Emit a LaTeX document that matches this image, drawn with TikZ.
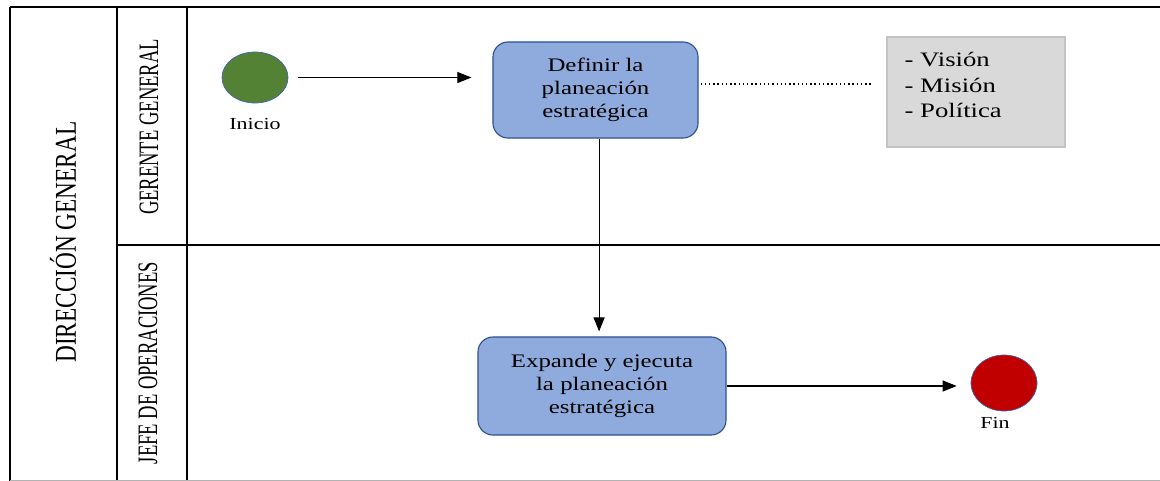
\documentclass[tikz,border=0pt]{standalone}
\usepackage{fontspec}
\setmainfont{Liberation Serif}
\newfontfamily\boxfont[FakeStretch=1.3]{Liberation Serif}
\newfontfamily\lanefont[FakeStretch=0.66]{Liberation Serif}
\newfontfamily\poolfont[FakeStretch=0.77]{Liberation Serif}
\definecolor{bpgreen}{RGB}{84,130,53}
\definecolor{bpred}{RGB}{192,0,0}
\definecolor{bpring}{RGB}{68,100,170}
\definecolor{bpfill}{RGB}{143,170,220}
\definecolor{bpedge}{RGB}{47,82,143}
\definecolor{bpnote}{RGB}{217,217,217}
\definecolor{bpnoteedge}{RGB}{195,195,195}
\usetikzlibrary{arrows.meta,positioning,shapes.geometric,calc}
\newcommand{\pxu}{0.025cm}

\begin{document}
\begin{tikzpicture}[x=\pxu, y=-\pxu,
    lane/.style={line width=2pt},
    poolname/.style={rotate=90, inner sep=0, font=\poolfont\fontsize{21.5}{26}\selectfont},
    lanename/.style={rotate=90, inner sep=0, font=\lanefont\fontsize{20}{24}\selectfont},
    event/.style={ellipse, draw=bpring, line width=0.5pt, minimum width=1.65cm, inner sep=0},
    evlabel/.style={inner sep=0, font=\boxfont\fontsize{12}{14}\selectfont},
    task/.style={draw=bpedge, fill=bpfill, line width=0.8pt, rounded corners=3.75mm, align=center, inner sep=0, font=\boxfont\fontsize{13.6}{16.4}\selectfont},
    note/.style={draw=bpnoteedge, fill=bpnote, line width=0.8pt},
    notetext/.style={align=left, inner sep=0, font=\boxfont\fontsize{14.6}{18}\selectfont},
    flow/.style={-{Triangle[length=3.5mm, width=2.75mm]}, line width=0.8pt}]
  \useasboundingbox (0,0) rectangle (1160,481);

  %% Pool and lanes
  \draw[lane] (10,7) -- (1160,7);
  \draw[lane] (10,7) -- (10,481);
  \draw[lane] (117,7) -- (117,481);
  \draw[lane] (187,7) -- (187,481);
  \draw[lane] (117,245) -- (1160,245);
  \draw[gray!60, line width=0.6pt] (10,480) -- (1160,480);

  \node[poolname] (pool) at (63,242) {DIRECCIÓN GENERAL};
  \node[lanename] (gerente) at (149,127) {GERENTE GENERAL};
  \node[lanename] (jefe) at (148,363) {JEFE DE OPERACIONES};

  %% Lane 1: Gerente general
  \node[event, fill=bpgreen, minimum height=1.275cm] (inicio) at (255,77.5) {};
  \node[evlabel, below=0.36cm of inicio] (inicioLbl) {Inicio};
  \node[task, minimum width=5.125cm, minimum height=2.4cm] (plan) at (595.5,90) {Definir la\\planeación\\estratégica};
  \node[note, minimum width=4.45cm, minimum height=2.75cm] (notas) at (976,92) {};
  \node[notetext, anchor=north west] (notastxt) at ([shift={(18,16)}]notas.north west) {- Visión\\- Misión\\- Política};

  %% Lane 2: Jefe de operaciones
  \node[task, minimum width=6.2cm, minimum height=2.45cm] (ejec) at (602,386) {Expande y ejecuta\\la planeación\\estratégica};
  \node[event, fill=bpred, minimum height=1.4cm] (fin) at (1004,383) {};
  \node[evlabel, below=0.15cm of fin, xshift=-0.225cm] (finLbl) {Fin};

  %% Flows
  \draw[flow, shorten <=0.25cm, shorten >=0.525cm] (inicio) -- (inicio -| plan.west);
  \draw[line width=1pt, dash pattern=on 1pt off 2pt, shorten <=0.05cm, shorten >=0.375cm] ([yshift=0.15cm]plan.east) -- ([yshift=0.15cm]plan.east -| notas.west);
  \draw[flow, shorten >=0.125cm] ([xshift=0.09cm]plan.south) -- ([xshift=0.09cm]plan.south |- ejec.north);
  \draw[flow, shorten >=0.35cm] (ejec) -- (ejec -| fin.west);
\end{tikzpicture}
\end{document}
